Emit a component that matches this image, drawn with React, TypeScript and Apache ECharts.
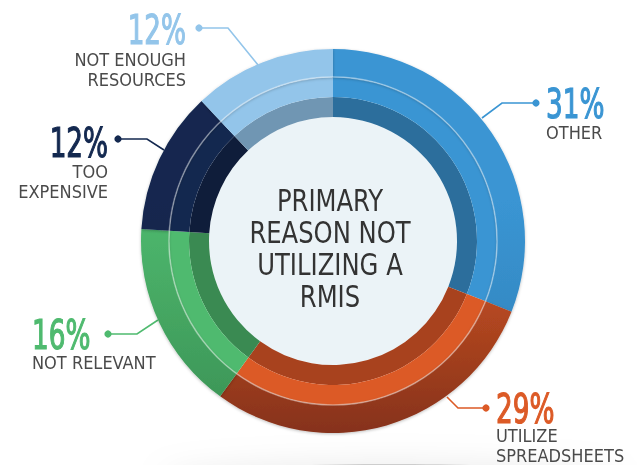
import React, { useEffect, useRef } from "react";
import * as echarts from "echarts";

const categories = ["OTHER", "UTILIZE SPREADSHEETS", "NOT RELEVANT", "TOO EXPENSIVE", "NOT ENOUGH RESOURCES"];
const labelLines = [["OTHER"], ["UTILIZE", "SPREADSHEETS"], ["NOT RELEVANT"], ["TOO", "EXPENSIVE"], ["NOT ENOUGH", "RESOURCES"]];
const values = [31, 29, 16, 12, 12];
const baseColors = ["#3a95d3", "#dc5a26", "#4fba6f", "#13284f", "#93c5ea"];
const darkColors = ["#2c6e9c", "#a8421e", "#3a8a52", "#0f1d3a", "#7096b3"];
const bottomColors = ["#2f7fb6", "#86321a", "#3a9154", "#0f2245", "#80b3d8"];
const centerTitle = ["PRIMARY", "REASON NOT", "UTILIZING A", "RMIS"];

const FONT = "'Liberation Sans Narrow', 'DejaVu Sans Condensed', 'Roboto Condensed', 'Liberation Sans', sans-serif";

const CX = 333;
const CY = 241;

// annotation layout: x anchor, pct top, name top, alignment, leader points
const labelPlace = [
  { x: 546, py: 84, ny: 122, align: "left", pts: [[482, 118], [502, 103], [536, 103]] },
  { x: 496, py: 389, ny: 425, align: "left", pts: [[447, 397], [458, 408], [486, 408]] },
  { x: 32, py: 315, ny: 352, align: "left", pts: [[158, 320], [137, 334], [108, 334]] },
  { x: 108, py: 123, ny: 161, align: "right", pts: [[164, 150], [147, 139], [118, 139]] },
  { x: 186, py: 10, ny: 49, align: "right", pts: [[258, 65], [228, 28], [199, 28]] },
];

export default function App() {
  const ref = useRef<HTMLDivElement>(null);
  useEffect(() => {
    if (!ref.current) return;
    const chart = echarts.init(ref.current, null, { renderer: "svg" });
    const mk = (colors: string[]) =>
      values.map((v, i) => ({
        value: v,
        name: categories[i],
        itemStyle: { color: colors[i] },
      }));

    const outerData = values.map((v, i) => ({
      value: v,
      name: categories[i],
      itemStyle: {
        color: new echarts.graphic.LinearGradient(
          0, 200, 0, 433,
          [
            { offset: 0, color: baseColors[i] },
            { offset: 1, color: bottomColors[i] },
          ],
          true
        ),
      },
      label: {
        align: labelPlace[i].align,
        formatter: () => labelLines[i].join("\n"),
        fontSize: 18,
        lineHeight: 20,
        color: "#4a4a4a",
        fontFamily: FONT,
      },
      labelLine: { lineStyle: { color: baseColors[i], width: 1.6 } },
    }));

    const dots = labelPlace.map((p, i) => ({
      type: "circle",
      shape: { cx: p.pts[2][0], cy: p.pts[2][1], r: 3.6 },
      style: { fill: baseColors[i] },
      z: 100,
    }));

    const pctTexts = labelPlace.map((p, i) => ({
      type: "text",
      x: p.x,
      y: p.py,
      scaleX: 0.73,
      style: {
        text: `${values[i]}%`,
        font: `40px ${FONT}`,
        lineHeight: 40,
        fill: baseColors[i],
        stroke: baseColors[i],
        lineWidth: 1.2,
        align: p.align,
        verticalAlign: "top",
      },
      z: 100,
    }));

    chart.setOption({
      animation: false,
      graphic: [
        {
          type: "ellipse",
          shape: { cx: 390, cy: 480, rx: 230, ry: 16 },
          style: { fill: "rgba(0,0,0,0.16)", shadowBlur: 30, shadowColor: "rgba(0,0,0,0.5)" },
          z: -10,
        },
        ...dots,
        ...pctTexts,
        {
          type: "text",
          x: 330,
          y: 249,
          scaleX: 0.9,
          style: {
            text: centerTitle.join("\n"),
            font: `30px ${FONT}`,
            lineHeight: 32,
            fill: "#333333",
            align: "center",
            verticalAlign: "middle",
          },
          z: 100,
        },
      ],
      series: [
        {
          type: "pie",
          silent: true,
          center: [CX, CY],
          radius: [0, 124],
          label: { show: false },
          labelLine: { show: false },
          data: [{ value: 1, name: "center", itemStyle: { color: "#ebf3f7" } }],
        },
        {
          type: "pie",
          silent: true,
          center: [CX, CY],
          radius: [124, 144],
          startAngle: 90,
          label: { show: false },
          labelLine: { show: false },
          data: mk(darkColors),
        },
        {
          type: "pie",
          silent: true,
          center: [CX, CY],
          radius: [144, 164],
          startAngle: 90,
          label: { show: false },
          labelLine: { show: false },
          data: mk(baseColors),
        },
        {
          type: "pie",
          silent: true,
          center: [CX, CY],
          radius: [164, 192],
          startAngle: 90,
          avoidLabelOverlap: false,
          itemStyle: { shadowBlur: 3, shadowColor: "rgba(0,0,0,0.25)", shadowOffsetY: 1 },
          label: { show: true, position: "outside", fontFamily: FONT },
          labelLine: { show: true, length: 10, length2: 10 },
          labelLayout: (params: any) => {
            const p = labelPlace[params.dataIndex];
            return {
              x: p.x,
              y: p.ny,
              align: p.align,
              verticalAlign: "top",
              labelLinePoints: p.pts,
            };
          },
          data: outerData,
        },
        {
          type: "pie",
          silent: true,
          center: [CX, CY],
          radius: [163.2, 164.8],
          label: { show: false },
          labelLine: { show: false },
          data: [{ value: 1, name: "line", itemStyle: { color: "rgba(255,255,255,0.4)" } }],
        },
      ],
    });
    return () => chart.dispose();
  }, []);
  return <div ref={ref} style={{ position: "fixed", left: 0, top: 0, width: 642, height: 465 }} />;
}
